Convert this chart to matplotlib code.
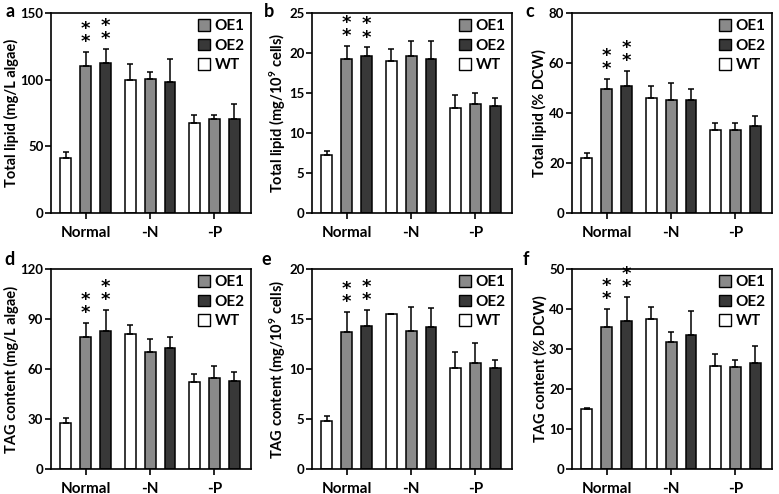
import numpy as np
import matplotlib
matplotlib.use("Agg")
import matplotlib.pyplot as plt
from matplotlib.patches import Patch

plt.rcParams['font.family'] = ['Lato', 'DejaVu Sans']
plt.rcParams['font.weight'] = 'bold'
plt.rcParams['mathtext.fontset'] = 'custom'
plt.rcParams['mathtext.rm'] = 'Lato:bold'
plt.rcParams['mathtext.bf'] = 'Lato:bold'
plt.rcParams['mathtext.default'] = 'rm'

conditions = ['Normal', '-N', '-P']
strains = ['WT', 'OE1', 'OE2']

# panel a: total lipid (mg/L algae)
a_wt = [41.1, 99.7, 67.8]
a_wt_err = [4.9, 12.3, 5.5]
a_oe1 = [110.6, 100.2, 70.8]
a_oe1_err = [10.3, 5.5, 2.5]
a_oe2 = [112.6, 98.4, 70.3]
a_oe2_err = [10.7, 17.2, 11.4]

# panel b: total lipid (mg/10^9 cells)
b_wt = [7.2, 19.05, 13.1]
b_wt_err = [0.6, 1.45, 1.6]
b_oe1 = [19.3, 19.6, 13.6]
b_oe1_err = [1.6, 1.9, 1.35]
b_oe2 = [19.6, 19.2, 13.4]
b_oe2_err = [1.1, 2.3, 1.0]

# panel c: total lipid (% DCW)
c_wt = [22.0, 46.1, 33.1]
c_wt_err = [2.0, 4.7, 2.7]
c_oe1 = [49.7, 45.4, 33.1]
c_oe1_err = [3.8, 6.5, 2.7]
c_oe2 = [50.8, 45.2, 34.7]
c_oe2_err = [6.0, 4.5, 4.2]

# panel d: TAG (mg/L algae)
d_wt = [27.8, 81.2, 52.4]
d_wt_err = [2.6, 5.2, 4.6]
d_oe1 = [79.0, 70.4, 54.8]
d_oe1_err = [8.8, 7.4, 7.0]
d_oe2 = [82.8, 72.4, 52.8]
d_oe2_err = [12.4, 7.0, 5.2]

# panel e: TAG (mg/10^9 cells)
e_wt = [4.85, 15.5, 10.13]
e_wt_err = [0.5, 0.0, 1.6]
e_oe1 = [13.7, 13.85, 10.6]
e_oe1_err = [2.0, 2.35, 2.0]
e_oe2 = [14.3, 14.2, 10.13]
e_oe2_err = [1.65, 1.95, 0.8]

# panel f: TAG (% DCW)
f_wt = [14.9, 37.5, 25.7]
f_wt_err = [0.3, 3.0, 3.0]
f_oe1 = [35.4, 31.8, 25.6]
f_oe1_err = [4.6, 2.4, 1.6]
f_oe2 = [37.1, 33.6, 26.5]
f_oe2_err = [5.9, 5.9, 4.3]

colors = {'WT': 'white', 'OE1': '#8a8a8a', 'OE2': '#383838'}
offsets = {'WT': -0.31, 'OE1': 0.0, 'OE2': 0.31}
width = 0.17

panels = [
    ('a', 'Total lipid (mg/L algae)', 150, 50, (a_wt, a_oe1, a_oe2), (a_wt_err, a_oe1_err, a_oe2_err)),
    ('b', 'Total lipid (mg/10$^{9}$ cells)', 25, 5, (b_wt, b_oe1, b_oe2), (b_wt_err, b_oe1_err, b_oe2_err)),
    ('c', 'Total lipid (% DCW)', 80, 20, (c_wt, c_oe1, c_oe2), (c_wt_err, c_oe1_err, c_oe2_err)),
    ('d', 'TAG content (mg/L algae)', 120, 30, (d_wt, d_oe1, d_oe2), (d_wt_err, d_oe1_err, d_oe2_err)),
    ('e', 'TAG content (mg/10$^{9}$ cells)', 20, 5, (e_wt, e_oe1, e_oe2), (e_wt_err, e_oe1_err, e_oe2_err)),
    ('f', 'TAG content (% DCW)', 50, 10, (f_wt, f_oe1, f_oe2), (f_wt_err, f_oe1_err, f_oe2_err)),
]

W, H = 779, 494
fig = plt.figure(figsize=(W / 100, H / 100), dpi=100)

lefts = [51, 312, 572]
tops = [13, 269]
letter_pos = [(6, 3), (264, 3), (525, 3), (4, 251), (261, 251), (523, 251)]

x = np.arange(len(conditions))
for i, (letter, ylabel, ymax, step, vals, errs) in enumerate(panels):
    row, col = divmod(i, 3)
    l, t = lefts[col], tops[row]
    ax = fig.add_axes([l / W, 1 - (t + 200) / H, 200 / W, 200 / H])
    for s, v, e in zip(strains, vals, errs):
        xs = x + offsets[s]
        ax.bar(xs, v, width, color=colors[s], edgecolor='black', linewidth=1.1, zorder=2)
        ax.errorbar(xs, v, yerr=[np.zeros(len(v)), e], fmt='none', ecolor='black',
                    elinewidth=1.1, capsize=2.5, capthick=1.1, zorder=3)
    # significance stars over the Normal OE bars
    for s, v, e in zip(strains[1:], vals[1:], errs[1:]):
        top = v[0] + e[0]
        ax.annotate('*\n*', xy=(offsets[s], top), xytext=(0, 3.5), textcoords='offset points',
                    ha='center', va='baseline', fontsize=13, fontweight='bold',
                    linespacing=0.65, family='DejaVu Sans')
    ax.set_xlim(-0.54, 2.57)
    ax.set_ylim(0, ymax)
    ax.set_yticks(np.arange(0, ymax + step / 2, step))
    ax.set_xticks(x)
    ax.set_xticklabels(conditions, fontsize=11, fontweight='bold')
    ax.tick_params(axis='y', labelsize=9.5, length=4, width=1.2, pad=1.5)
    ax.tick_params(axis='x', length=4, width=1.2, pad=5)
    for lab in ax.get_yticklabels():
        lab.set_fontweight('bold')
    for sp in ax.spines.values():
        sp.set_linewidth(1.2)
    ax.set_ylabel(ylabel, fontsize=10.5, fontweight='bold', labelpad=1)
    handles = [Patch(facecolor=colors[s], edgecolor='black', linewidth=1.0) for s in ['OE1', 'OE2', 'WT']]
    ax.legend(handles, ['OE1', 'OE2', 'WT'], loc='upper right', frameon=False,
              prop={'weight': 'bold', 'size': 11}, handlelength=0.8, handleheight=0.8,
              handletextpad=0.3, labelspacing=0.35, borderaxespad=0.2, borderpad=0.2)
    lx, ly = letter_pos[i]
    fig.text(lx / W, 1 - ly / H, letter, fontsize=13, fontweight='bold', va='top', ha='left')

fig.savefig('out.png', dpi=100)
